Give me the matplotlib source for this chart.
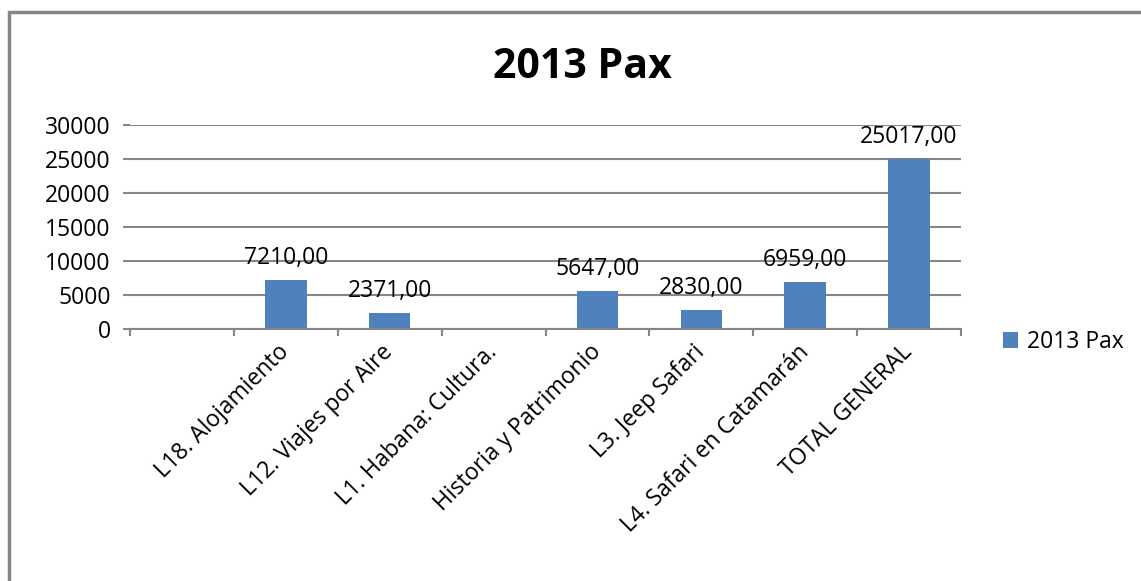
import matplotlib
matplotlib.use('Agg')
import numpy as np
from matplotlib import pyplot as plt, patches

plt.rcParams['font.family'] = ['Open Sans', 'DejaVu Sans']

# data
categories = ['', 'L18. Alojamiento', 'L12. Viajes por Aire', 'L1. Habana: Cultura.',
              'Historia y Patrimonio', 'L3. Jeep Safari', 'L4. Safari en Catamarán',
              'TOTAL GENERAL']
pax_2013 = [np.nan, 7210, 2371, np.nan, 5647, 2830, 6959, 25017]
series_name = '2013 Pax'
yticks = [0, 5000, 10000, 15000, 20000, 25000, 30000]

bar_color = '#4F81BD'
grid_color = '#868686'
fs = 16.5

fig = plt.figure(figsize=(11.41, 5.81), dpi=100)
ax = fig.add_axes([130/1141, 1-329/581, (961-130)/1141, (329-125)/581])

x = np.arange(len(categories))
vals = np.array(pax_2013, dtype=float)
bars = ax.bar(x, np.nan_to_num(vals), width=0.4, color=bar_color, label=series_name, zorder=3)

# data labels
for xi, v in zip(x, vals):
    if np.isnan(v):
        continue
    ax.annotate('{:.2f}'.format(v).replace('.', ','), xy=(xi, v), xytext=(0, 7),
                textcoords='offset points', ha='center', va='bottom', fontsize=fs)

# axis format
ax.set_xlim(-0.5, len(categories) - 0.5)
ax.set_ylim(0, 30000)
ax.set_yticks(yticks)
ax.set_yticklabels([str(t) for t in yticks], fontsize=fs)
ax.yaxis.grid(True, color=grid_color, lw=1.5, zorder=0)
ax.set_xticks(x)
ax.set_xticklabels(categories, rotation=45, ha='right', va='center',
                   rotation_mode='anchor', fontsize=fs)
ax.set_xticks(np.arange(len(categories) + 1) - 0.5, minor=True)
ax.tick_params(axis='x', which='major', length=0, pad=14)
ax.tick_params(axis='x', which='minor', length=5, width=1.5, color=grid_color, direction='out')
ax.tick_params(axis='y', which='major', length=5, width=1.5, color=grid_color, pad=9)
for side in ['top', 'right', 'left']:
    ax.spines[side].set_visible(False)
ax.spines['bottom'].set_color(grid_color)
ax.spines['bottom'].set_linewidth(1.5)
ax.spines['bottom'].set_zorder(4)

fig.text(582/1141, 1-67/581, '2013 Pax', ha='center', va='center', fontsize=29.5, fontweight='bold')

# legend
ax.legend(loc='center left', bbox_to_anchor=(982/1141, 1-342/581), bbox_transform=fig.transFigure,
          frameon=False, fontsize=fs, handlelength=0.65, handleheight=0.65, handletextpad=0.4)

# outer chart border (only top and left visible in the picture)
fig.add_artist(patches.Rectangle((9/1141, -0.1), 1.2, 1 - 12/581 + 0.1,
                                 transform=fig.transFigure, fill=False,
                                 edgecolor='#868686', lw=2.5))

fig.savefig('out.png', dpi=100)
